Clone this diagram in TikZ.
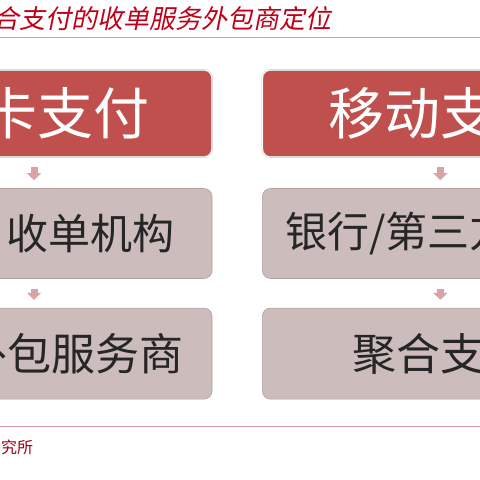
\documentclass[tikz,border=0pt]{standalone}
\usepackage{fontspec}
\usetikzlibrary{positioning,arrows.meta}
\newfontfamily\cjk{Noto Sans CJK SC}
\newfontfamily\cjkslant[FakeSlant=0.2]{Noto Sans CJK SC}
\definecolor{headred}{HTML}{C0504D}
\definecolor{rowgray}{HTML}{CCBCBC}
\definecolor{rowedge}{HTML}{B4A3A3}
\definecolor{flowpink}{HTML}{D9A3A5}
\definecolor{rulepink}{HTML}{DDA0AA}
\definecolor{titlered}{HTML}{C00018}
\begin{document}
\begin{tikzpicture}[x=1pt,y=1pt,
  head/.style={rounded corners=8pt,fill=headred,draw=gray!45,double=white,
    double distance=0.8pt,line width=0.4pt,minimum width=356pt,minimum height=87pt,
    inner ysep=0pt,text=white,font=\cjk\fontsize{56}{56}\selectfont},
  box/.style={rounded corners=8pt,fill=rowgray,draw=rowedge,line width=0.6pt,
    minimum width=356pt,minimum height=90pt,inner ysep=0pt,text=black!85,
    font=\cjk\fontsize{42}{42}\selectfont},
  flow/.style={flowpink,line width=7pt,-{Triangle[width=14pt,length=7pt]},
    shorten <=10pt,shorten >=8pt}
]
  \useasboundingbox (0,0) rectangle (480,-480);
  \fill[white] (0,0) rectangle (480,-480);
  \clip (0,0) rectangle (480,-480);
  % title and rules
  \node[anchor=west,inner sep=0pt,text=titlered,font=\cjkslant\fontsize{26}{26}\selectfont]
    (title) at (-7,-19) {合支付的收单服务外包商定位};
  \draw[rulepink,line width=1pt] (0,-37) -- (480,-37);
  \draw[rulepink,line width=1pt] (0,-426) -- (480,-426);
  \node[anchor=west,inner sep=0pt,text=titlered!85!black,font=\cjk\fontsize{16}{16}\selectfont]
    (source) at (1,-447) {究所};
  % left column
  \node[head,align=right,inner xsep=62pt,text width=232pt] (card) at (34,-113.5) {卡支付};
  \node[box,align=right,inner xsep=37pt,text width=282pt,below=31pt of card] (acq) {收单机构};
  \node[box,align=right,inner xsep=28pt,text width=300pt,minimum height=91pt,
    font=\cjk\fontsize{44}{44}\selectfont,below=29pt of acq] (outs) {外包服务商};
  % right column
  \node[head,right=50pt of card] (mobile) {移动支付};
  \node[box,below=31pt of mobile] (bank) {银行/第三方支付};
  \node[box,minimum height=91pt,font=\cjk\fontsize{44}{44}\selectfont,
    below=29pt of bank] (agg) {聚合支付};
  % arrows
  \draw[flow] (card) -- (acq);
  \draw[flow] (acq) -- (outs);
  \draw[flow] (mobile) -- (bank);
  \draw[flow] (bank) -- (agg);
\end{tikzpicture}
\end{document}
